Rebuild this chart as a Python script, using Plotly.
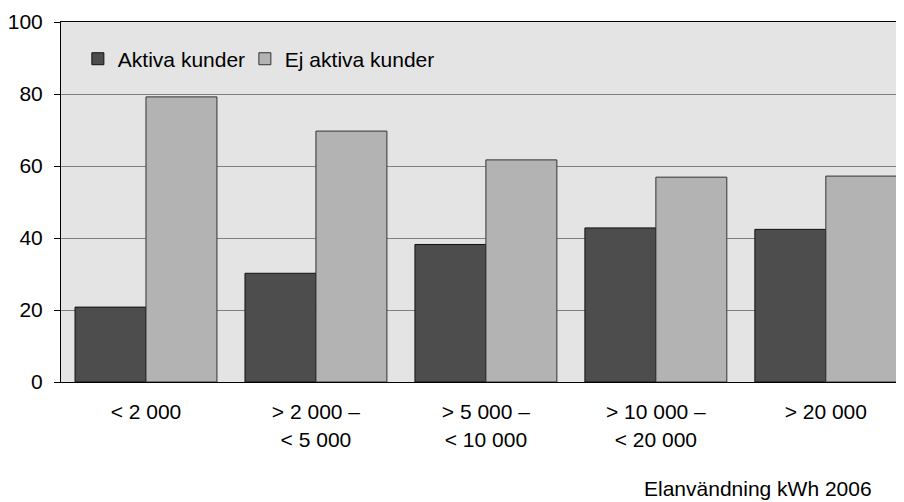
import plotly.graph_objects as go

categories = ["< 2 000", "> 2 000 –\n< 5 000", "> 5 000 –\n< 10 000", "> 10 000 –\n< 20 000", "> 20 000"]
aktiva = [20.8, 30.2, 38.2, 42.8, 42.4]
ej_aktiva = [79.2, 69.7, 61.7, 56.9, 57.2]
y_ticks = [0, 20, 40, 60, 80, 100]

FONT = "Liberation Sans, Arial, sans-serif"
labels = [c.replace("<", "&lt;").replace(">", "&gt;").replace("\n", "<br>") for c in categories]
xs = list(range(len(categories)))

# page body has an 8px margin, so the figure is sized/offset to compensate
L, T, PW, PH = 53, 14, 843, 360

fig = go.Figure()
fig.add_trace(go.Bar(x=xs, y=aktiva, name="Aktiva kunder", legend="legend",
                     marker=dict(color="#4d4d4d", line=dict(color="#111111", width=1))))
fig.add_trace(go.Bar(x=xs, y=ej_aktiva, name="Ej aktiva kunder", legend="legend2",
                     marker=dict(color="#b3b3b3", line=dict(color="#333333", width=1))))

fig.add_annotation(text="Elanvändning kWh 2006", xref="paper", yref="paper",
                   x=(866 - L) / PW, y=-(480 - (T + PH)) / PH, xanchor="right", yanchor="middle",
                   showarrow=False, font=dict(size=21, color="black", family=FONT))

leg = dict(orientation="h", y=0.897, xanchor="left", yanchor="middle",
           bgcolor="rgba(0,0,0,0)", font=dict(size=21), itemclick=False)
fig.update_layout(
    width=896, height=494,
    margin=dict(l=L, r=0, t=T, b=494 - T - PH),
    paper_bgcolor="white", plot_bgcolor="#e4e4e4",
    font=dict(family=FONT, size=21, color="black"),
    barmode="group", bargap=0.165, bargroupgap=0,
    showlegend=True,
    legend=dict(x=0.02, **leg),
    legend2=dict(x=0.02 + 167 / PW, **leg),
)
fig.update_xaxes(range=[-0.5, 4.46], tickmode="array", tickvals=xs, ticktext=labels,
                 showline=True, linecolor="black", linewidth=1, mirror=True,
                 showgrid=False, ticks="", ticklabelstandoff=11)
fig.update_yaxes(range=[0, 100], tickvals=y_ticks, showline=True, linecolor="black", linewidth=1,
                 showgrid=True, gridcolor="#808080", gridwidth=1, zeroline=False,
                 ticks="outside", ticklen=6, tickcolor="black", ticklabelstandoff=7)

fig.write_html("out.html")
